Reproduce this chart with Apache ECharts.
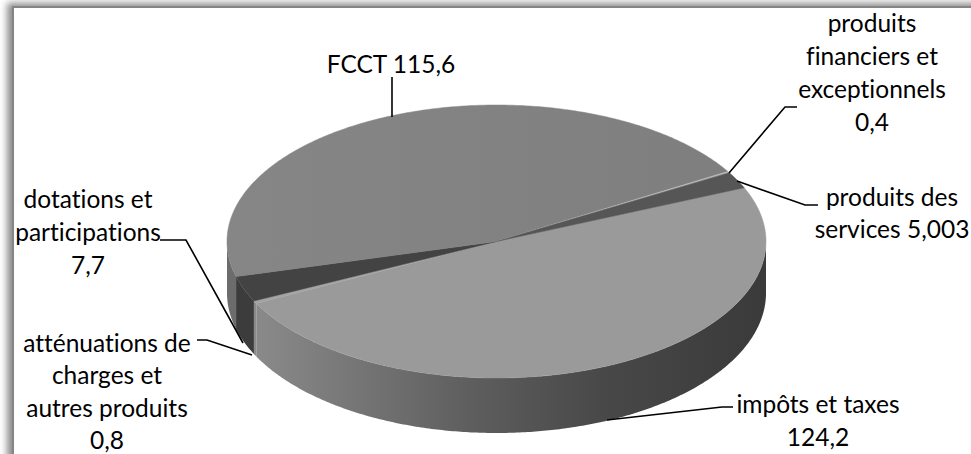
<!DOCTYPE html>
<html><head><meta charset="utf-8">
<script src="https://cdn.jsdelivr.net/npm/echarts@6/dist/echarts.min.js"></script>
<style>
html,body{margin:0;padding:0;background:#fff;overflow:hidden}
#frame{position:absolute;left:12px;top:6px;width:980px;height:470px;border:2px solid #858585;background:#fff;box-shadow:-5px -3px 7px rgba(0,0,0,0.45)}
#c{position:absolute;left:0;top:0;width:971px;height:454px}
#c svg, #c text, #c tspan{font-variant-ligatures:none !important;font-feature-settings:"liga" 0,"clig" 0 !important}
</style>
</head><body><div id="frame"></div><div id="c"></div>
<script>
// ---- data ----
const categories = ['impôts et taxes', 'atténuations de charges et autres produits', 'dotations et participations', 'FCCT', 'produits financiers et exceptionnels', 'produits des services'];
const values = [124.2, 0.8, 7.7, 115.6, 0.4, 5.003];
const labelTexts = [
  'impôts et taxes\n124,2',
  'atténuations de\ncharges et\nautres produits\n0,8',
  'dotations et\nparticipations\n7,7',
  'FCCT 115,6',
  'produits\nfinanciers et\nexceptionnels\n0,4',
  'produits des\nservices 5,003'
];

// ---- layout / style ----
const CX = 496.5, CY = 241.5, RX = 269.5, RY = 136.5, BCY = 293, BRY = 140;
const START = -23.2 * Math.PI / 180;
const topColors = ['#9a9a9a', '#a4a4a4', '#434343', '#828282', '#b8b8b8', '#565656'];
const labelPos = [[818, 420], [107, 391], [88, 231], [391, 63], [872, 72], [892, 212]];
const lineHeights = [33, 32.5, 33, 33, 33, 32];
const leaders = [
  [[733, 407], [722, 407], [607, 420]],
  [[197, 340], [207, 340], [252, 355]],
  [[160, 240], [186, 240], [243, 343]],
  [[392, 77], [392, 117]],
  [[797, 107], [785, 107], [729, 173]],
  [[818, 205], [805, 205], [737, 181]]
];

const total = values.reduce((a, b) => a + b, 0);
const cum = [0];
values.forEach((v, i) => cum.push(cum[i] + v));
function angleOf(k) { return START + cum[k] / total * Math.PI * 2; }
function topPt(t) { return [CX + RX * Math.cos(t), CY + RY * Math.sin(t)]; }
function botPt(t) { return [CX + RX * Math.cos(t), BCY + BRY * Math.sin(t)]; }

const G = echarts.graphic;
const frontGrad = new G.LinearGradient(227, 0, 766, 0, [
  {offset: 0, color: '#909090'}, {offset: 0.2, color: '#7a7a7a'}, {offset: 0.45, color: '#5e5e5e'},
  {offset: 0.7, color: '#484848'}, {offset: 1, color: '#3a3a3a'}], true);
const topGradFCCT = new G.LinearGradient(227, 0, 766, 0, [
  {offset: 0, color: '#868686'}, {offset: 1, color: '#7e7e7e'}], true);
const sideColors = [frontGrad, '#8a8a8a', '#3c3c3c', '#6c6c6c', '#8a8a8a', '#3c3c3c'];

function sideItem(params, api) {
  const i = params.dataIndex;
  let a = angleOf(i), b = a + api.value(0) / total * Math.PI * 2;
  a = Math.max(a, 0); b = Math.min(b, Math.PI);
  if (b <= a) return null;
  const pts = [];
  const n = Math.max(2, Math.ceil((b - a) / 0.01));
  for (let k = 0; k <= n; k++) pts.push(topPt(a + (b - a) * k / n));
  for (let k = n; k >= 0; k--) pts.push(botPt(a + (b - a) * k / n));
  return {type: 'polygon', shape: {points: pts}, style: {fill: sideColors[i], stroke: null}};
}
function topItem(params, api) {
  const i = params.dataIndex;
  const a = angleOf(i), b = a + api.value(0) / total * Math.PI * 2;
  const pts = [[CX, CY]];
  const n = Math.max(2, Math.ceil((b - a) / 0.01));
  for (let k = 0; k <= n; k++) pts.push(topPt(a + (b - a) * k / n));
  const fill = i === 3 ? topGradFCCT : topColors[i];
  return {type: 'polygon', shape: {points: pts}, style: {fill: fill, stroke: topColors[i], lineWidth: 0.5}};
}
function labelItem(params, api) {
  const i = params.dataIndex;
  return {type: 'group', children: [
    {type: 'polyline', shape: {points: leaders[i]}, style: {stroke: '#000', lineWidth: 1.6, fill: null}},
    {type: 'text', style: {text: labelTexts[i], x: labelPos[i][0], y: labelPos[i][1], align: 'center', verticalAlign: 'middle',
      font: '24.5px Lato', lineHeight: lineHeights[i], fill: '#000'}}
  ]};
}

const chart = echarts.init(document.getElementById('c'), null, {renderer: 'svg'});
const data = values.map((v, i) => ({name: categories[i], value: [v]}));
chart.setOption({
  backgroundColor: 'transparent',
  animation: false,
  series: [
    {type: 'custom', coordinateSystem: 'none', silent: true, z: 2, renderItem: sideItem, data: data},
    {type: 'custom', coordinateSystem: 'none', silent: true, z: 3, renderItem: topItem, data: data},
    {type: 'custom', coordinateSystem: 'none', silent: true, z: 4, renderItem: labelItem, data: data}
  ]
});
</script>
</body></html>
